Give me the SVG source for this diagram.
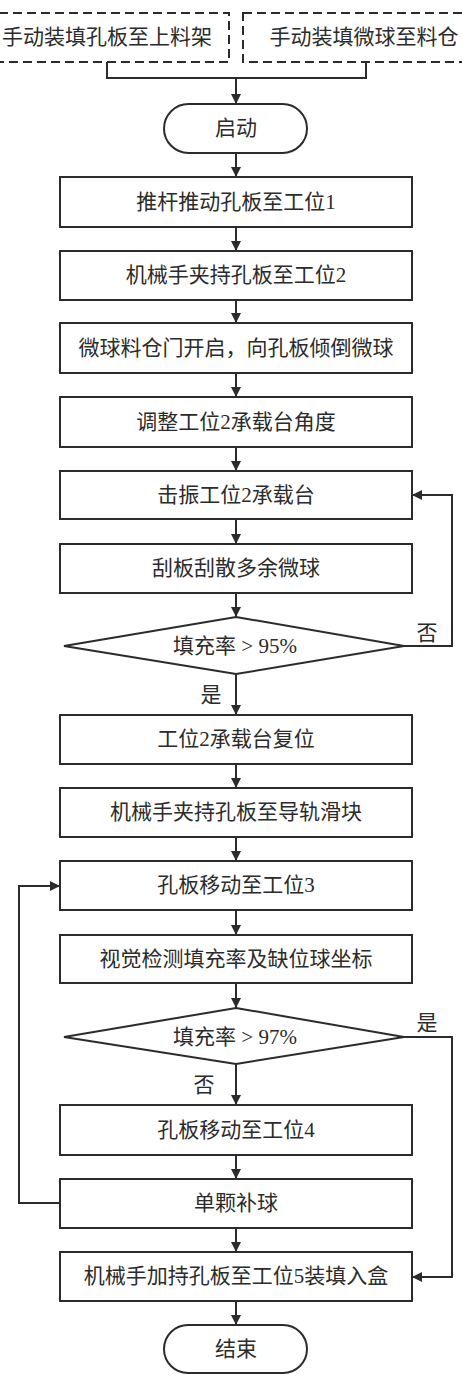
<svg xmlns="http://www.w3.org/2000/svg" width="462" height="1380" viewBox="0 0 462 1380">
<defs>
<marker id="ah" viewBox="0 0 10 10" refX="10" refY="5" markerWidth="10" markerHeight="10" markerUnits="userSpaceOnUse" orient="auto">
<path d="M0,0 L10,5 L0,10 Z" fill="#2b2b2b"/>
</marker>
<style>
.box{fill:#fff;stroke:#2b2b2b;stroke-width:2}
.dash{fill:#fff;stroke:#2b2b2b;stroke-width:2;stroke-dasharray:9 5}
.t{font-family:"Liberation Serif","Noto Sans CJK SC",serif;font-size:21px;fill:#2b2b2b;text-anchor:middle;dominant-baseline:central}
.c{fill:none;stroke:#2b2b2b;stroke-width:2}
</style>
</defs>
<rect width="462" height="1380" fill="#fff"/>
<g id="n_manual1"><rect class="dash" x="-15" y="13" width="244" height="49"/><text class="t" x="107" y="37">手动装填孔板至上料架</text></g>
<g id="n_manual2"><rect class="dash" x="243" y="13" width="242" height="49"/><text class="t" x="364" y="37">手动装填微球至料仓</text></g>
<g id="n_start"><rect class="box" x="164" y="104" width="143" height="49" rx="24.5"/><text class="t" x="236" y="128">启动</text></g>
<g id="n1"><rect class="box" x="60" y="177" width="352" height="50"/><text class="t" x="236" y="202">推杆推动孔板至工位1</text></g>
<g id="n2"><rect class="box" x="60" y="251" width="352" height="49"/><text class="t" x="236" y="275">机械手夹持孔板至工位2</text></g>
<g id="n3"><rect class="box" x="60" y="323" width="352" height="50"/><text class="t" x="236" y="348">微球料仓门开启，向孔板倾倒微球</text></g>
<g id="n4"><rect class="box" x="60" y="397" width="352" height="50"/><text class="t" x="236" y="422">调整工位2承载台角度</text></g>
<g id="n5"><rect class="box" x="60" y="471" width="352" height="48"/><text class="t" x="236" y="495">击振工位2承载台</text></g>
<g id="n6"><rect class="box" x="60" y="544" width="352" height="49"/><text class="t" x="236" y="568">刮板刮散多余微球</text></g>
<g id="d1"><polygon class="box" points="236,617 404,646 236,674 64,646"/><text class="t" x="235" y="646">填充率 &gt; 95%</text></g>
<g id="n7"><rect class="box" x="60" y="715" width="352" height="49"/><text class="t" x="236" y="739">工位2承载台复位</text></g>
<g id="n8"><rect class="box" x="60" y="788" width="352" height="49"/><text class="t" x="236" y="812">机械手夹持孔板至导轨滑块</text></g>
<g id="n9"><rect class="box" x="60" y="861" width="352" height="49"/><text class="t" x="236" y="885">孔板移动至工位3</text></g>
<g id="n10"><rect class="box" x="60" y="935" width="352" height="48"/><text class="t" x="236" y="959">视觉检测填充率及缺位球坐标</text></g>
<g id="d2"><polygon class="box" points="236,1008 404,1037 236,1064 64,1037"/><text class="t" x="235" y="1037">填充率 &gt; 97%</text></g>
<g id="n11"><rect class="box" x="60" y="1105" width="352" height="50"/><text class="t" x="236" y="1130">孔板移动至工位4</text></g>
<g id="n12"><rect class="box" x="60" y="1179" width="352" height="49"/><text class="t" x="236" y="1203">单颗补球</text></g>
<g id="n13"><rect class="box" x="60" y="1252" width="352" height="49"/><text class="t" x="236" y="1276">机械手加持孔板至工位5装填入盒</text></g>
<g id="n_end"><rect class="box" x="164" y="1325" width="143" height="48" rx="24"/><text class="t" x="236" y="1349">结束</text></g>
<g id="connectors">
<polyline class="c" points="107,62 107,78 366,78 366,62"/>
<line class="c" x1="236" y1="78" x2="236" y2="104" marker-end="url(#ah)"/>
<line class="c" x1="236" y1="153" x2="236" y2="177" marker-end="url(#ah)"/>
<line class="c" x1="236" y1="227" x2="236" y2="251" marker-end="url(#ah)"/>
<line class="c" x1="236" y1="300" x2="236" y2="323" marker-end="url(#ah)"/>
<line class="c" x1="236" y1="373" x2="236" y2="397" marker-end="url(#ah)"/>
<line class="c" x1="236" y1="447" x2="236" y2="471" marker-end="url(#ah)"/>
<line class="c" x1="236" y1="519" x2="236" y2="544" marker-end="url(#ah)"/>
<line class="c" x1="236" y1="593" x2="236" y2="617" marker-end="url(#ah)"/>
<line class="c" x1="236" y1="674" x2="236" y2="715" marker-end="url(#ah)"/>
<polyline class="c" points="404,646 452,646 452,495 412,495" marker-end="url(#ah)"/>
<line class="c" x1="236" y1="764" x2="236" y2="788" marker-end="url(#ah)"/>
<line class="c" x1="236" y1="837" x2="236" y2="861" marker-end="url(#ah)"/>
<line class="c" x1="236" y1="910" x2="236" y2="935" marker-end="url(#ah)"/>
<line class="c" x1="236" y1="983" x2="236" y2="1008" marker-end="url(#ah)"/>
<line class="c" x1="236" y1="1064" x2="236" y2="1105" marker-end="url(#ah)"/>
<line class="c" x1="236" y1="1155" x2="236" y2="1179" marker-end="url(#ah)"/>
<line class="c" x1="236" y1="1228" x2="236" y2="1252" marker-end="url(#ah)"/>
<line class="c" x1="236" y1="1301" x2="236" y2="1325" marker-end="url(#ah)"/>
<polyline class="c" points="60,1203 19,1203 19,886 60,886" marker-end="url(#ah)"/>
<polyline class="c" points="404,1037 452,1037 452,1277 412,1277" marker-end="url(#ah)"/>
<text class="t" x="427" y="633">否</text>
<text class="t" x="211" y="695">是</text>
<text class="t" x="427" y="1023">是</text>
<text class="t" x="204" y="1085">否</text>
</g>
</svg>
